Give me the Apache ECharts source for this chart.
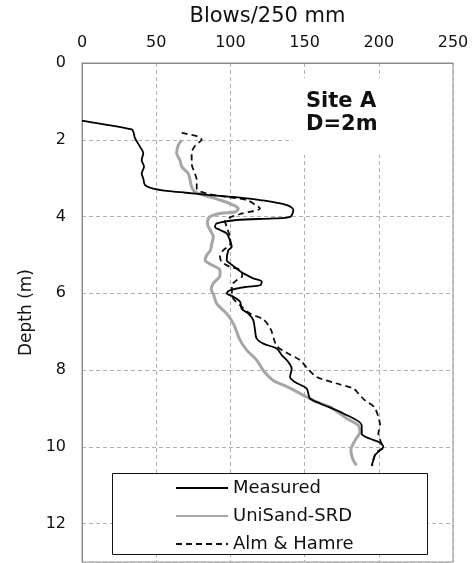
<!DOCTYPE html>
<html>
<head>
<meta charset="utf-8">
<script src="https://cdn.jsdelivr.net/npm/echarts@6/dist/echarts.min.js"></script>
<style>
html,body{margin:0;padding:0;background:#fff;}
#chart{width:475px;height:563px;}
</style>
</head>
<body>
<div id="chart"></div>
<script>
// [depth (m), blows/250 mm]
const measured = [
  [1.50,0],[1.73,33.5],[1.79,34.6],[1.96,35.7],[2.18,39.1],[2.35,41.3],[2.53,40.2],[2.70,41.8],
  [2.88,40.2],[3.01,41.3],[3.18,42.5],[3.27,48],[3.33,57],[3.38,70],[3.44,86],[3.49,102],
  [3.57,120],[3.70,138],[3.83,142.4],[4.01,140.2],[4.05,128.9],[4.09,104.2],[4.18,90.8],
  [4.27,89.6],[4.35,93],[4.44,97.5],[4.62,99.7],[4.79,100.9],[4.88,98.6],[5.14,97.5],
  [5.22,99.7],[5.48,108.7],[5.61,115.4],[5.70,121.1],[5.79,120],[5.83,111],[5.92,99.7],
  [6.00,97.5],[6.09,102],[6.22,106.5],[6.40,107.6],[6.53,112.1],[6.70,115.4],[6.96,116.6],
  [7.18,117.7],[7.31,122.2],[7.44,131.2],[7.61,134.6],[7.79,139],[7.96,141.3],[8.18,140.2],
  [8.31,143.5],[8.48,151.4],[8.61,152.5],[8.74,153.6],[8.87,160.4],[9.13,176.1],[9.44,188.5],
  [9.66,188.5],[9.79,194.1],[9.87,199.7],[10.00,203],[10.13,199.7],[10.22,197.4],[10.35,196.3],
  [10.48,195.2]
];
const uniSand = [
  [2.01,67.2],[2.14,64.9],[2.35,63.8],[2.53,66],[2.70,67.2],[2.88,71.6],[3.05,72.8],[3.23,73.9],
  [3.36,76.1],[3.44,81.7],[3.57,93],[3.70,102],[3.79,105.3],[3.88,103.1],[3.92,93],[4.01,86],
  [4.18,84.5],[4.35,86.3],[4.53,88.5],[4.70,87.5],[4.88,86.5],[5.01,84],[5.14,83],[5.27,88],
  [5.40,93],[5.53,93],[5.74,88.5],[5.90,87],[6.01,88.5],[6.27,90.8],[6.53,97.5],[6.79,102],
  [7.22,106.5],[7.48,111],[7.74,117.7],[8.01,122.2],[8.27,128.9],[8.44,138.5],[8.70,151.4],
  [8.83,158.2],[8.96,167.1],[9.26,178.4],[9.44,186.2],[9.61,187.3],[9.83,184],[10.09,181.2],
  [10.35,182.8],[10.48,185]
];
const almHamre = [
  [1.82,67.2],[1.92,78.4],[2.00,80.6],[2.14,76.5],[2.35,73.9],[2.62,73.9],[2.88,76.1],[3.05,77.3],
  [3.27,77.3],[3.40,84],[3.49,97.5],[3.57,111],[3.70,117],[3.79,120],[3.92,108],[4.01,100.5],
  [4.12,96.4],[4.27,97.5],[4.53,99.7],[4.70,100],[4.88,95.2],[5.05,93],[5.18,94.1],[5.30,99],
  [5.40,107],[5.55,108],[5.66,104.2],[5.79,101],[6.01,101],[6.14,102],[6.35,107.6],[6.53,113.2],
  [6.68,122.2],[6.94,127.2],[7.37,131.2],[7.55,137.9],[7.74,146.9],[7.96,152],[8.18,158.2],
  [8.35,171.6],[8.48,183],[8.61,186.2],[8.79,190.7],[8.96,196.8],[9.22,199.7],[9.44,200.8],
  [9.66,199.7],[9.92,201.9],[10.02,203],[10.13,198.6],[10.27,196.8],[10.50,195.5]
];
const seriesNames = ['Measured', 'UniSand-SRD', 'Alm & Hamre'];
const xTitle = 'Blows/250 mm';
const yTitle = 'Depth (m)';
const siteLabel = ['Site A', 'D=2m'];

const FONT = 'DejaVu Sans';
const toXY = arr => arr.map(p => [p[1], p[0]]);

const chart = echarts.init(document.getElementById('chart'), null, {renderer: 'canvas'});
chart.setOption({
  animation: false,
  backgroundColor: '#fff',
  textStyle: {fontFamily: FONT},
  grid: {left: 82, right: 22, top: 63, bottom: 1, show: true, borderColor: '#8c8c8c', borderWidth: 1, containLabel: false},
  xAxis: {
    type: 'value', position: 'top', min: 0, max: 250, interval: 50,
    name: xTitle, nameLocation: 'middle', nameGap: 36,
    nameTextStyle: {fontSize: 21, color: '#111', fontFamily: FONT},
    axisLine: {show: true, lineStyle: {color: '#8c8c8c', width: 1}},
    axisTick: {show: false},
    axisLabel: {fontSize: 16, color: '#111', margin: 12, fontFamily: FONT},
    splitLine: {show: true, lineStyle: {type: [4, 3], color: '#b0b0b0', width: 1}}
  },
  yAxis: {
    type: 'value', inverse: true, min: 0, max: 13, interval: 2,
    name: yTitle, nameLocation: 'middle', nameGap: 46, nameRotate: 90,
    nameTextStyle: {fontSize: 17, color: '#111', fontFamily: FONT},
    axisLine: {show: true, lineStyle: {color: '#8c8c8c', width: 1}},
    axisTick: {show: false},
    axisLabel: {fontSize: 16, color: '#111', margin: 16, fontFamily: FONT,
      formatter: v => (v % 2 === 0 ? String(v) : '')},
    splitLine: {show: true, lineStyle: {type: [4, 3], color: '#b0b0b0', width: 1}}
  },
  legend: {
    show: true, orient: 'vertical', left: 175, top: 479, itemWidth: 52, itemHeight: 14, itemGap: 10,
    padding: 0,
    itemStyle: {opacity: 0},
    textStyle: {fontSize: 18, color: '#111', fontFamily: FONT},
    data: seriesNames,
    z: 10
  },
  graphic: [
    {type: 'rect', z: 5, shape: {x: 293, y: 78, width: 158, height: 77}, style: {fill: '#fff'}},
    {type: 'text', z: 6, left: 306, top: 90, style: {text: siteLabel.join('\n'), font: 'bold 21px "DejaVu Sans"', fill: '#111', lineHeight: 23}},
    {type: 'rect', z: 1, zlevel: 0, shape: {x: 112.5, y: 473.5, width: 315, height: 81}, style: {fill: '#fff', stroke: '#111', lineWidth: 1}}
  ],
  series: [
    {name: seriesNames[1], type: 'line', data: toXY(uniSand), showSymbol: false, symbol: 'none', smooth: 0.3,
      lineStyle: {color: '#a6a6a6', width: 3}, itemStyle: {color: '#a6a6a6'}, z: 2},
    {name: seriesNames[2], type: 'line', data: toXY(almHamre), showSymbol: false, symbol: 'none', smooth: 0.3,
      lineStyle: {color: '#111', width: 1.8, type: [6, 4]}, itemStyle: {color: '#111'}, z: 3},
    {name: seriesNames[0], type: 'line', data: toXY(measured), showSymbol: false, symbol: 'none', smooth: 0.3,
      lineStyle: {color: '#000', width: 1.8}, itemStyle: {color: '#000'}, z: 4}
  ]
});
</script>
</body>
</html>
